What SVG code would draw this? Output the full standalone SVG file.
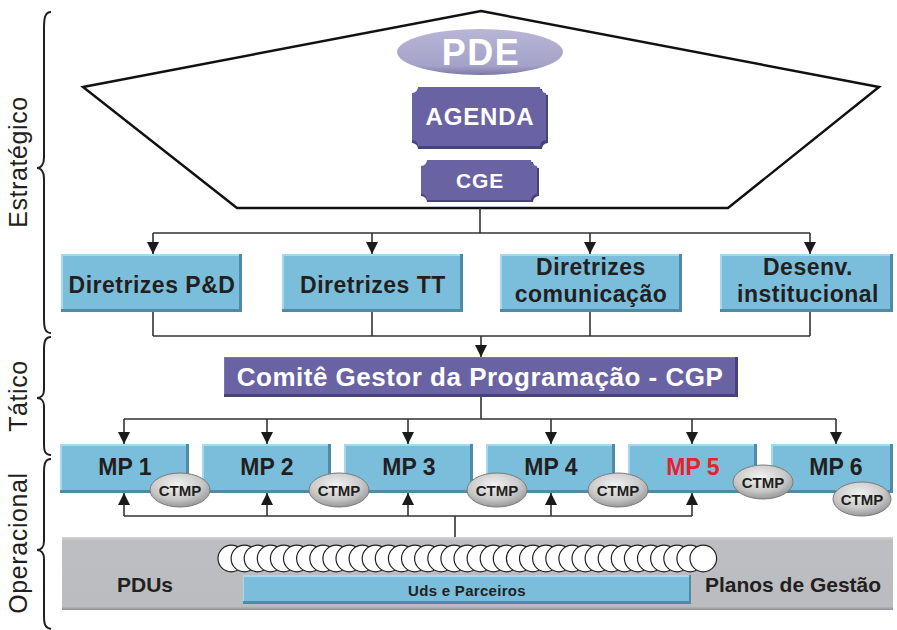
<svg xmlns="http://www.w3.org/2000/svg" width="897" height="630" viewBox="0 0 897 630">
  <defs>
    <style>
      .lbl { font-family: "Liberation Sans", Arial, sans-serif; font-weight: bold; fill: #231f20; text-anchor: middle; }
      .wht { font-family: "Liberation Sans", Arial, sans-serif; font-weight: bold; fill: #ffffff; text-anchor: middle; }
      .side { font-family: "Liberation Sans", Arial, sans-serif; font-size: 25px; fill: #231f20; text-anchor: middle; letter-spacing: 0.6px; }
      .blue { fill: #7bbedb; }
      .blueDark { fill: #4f8aa6; }
      .blueLight { fill: #a6d8ef; }
      .purple { fill: #6a63a3; }
      .purpleDark { fill: #47427c; }
      .wire { fill: none; stroke: #333333; stroke-width: 1.6; }
      .brace { fill: none; stroke: #231f20; stroke-width: 2; }
      .ctmp { fill: url(#ctmpGrad); stroke: #7a7a7a; stroke-width: 1; }
      .bead { fill: #ffffff; stroke: #231f20; stroke-width: 1.2; }
    </style>
    <marker id="arrow" viewBox="0 0 12 12" refX="12" refY="6" markerWidth="12" markerHeight="12" markerUnits="userSpaceOnUse" orient="auto">
      <path d="M0,0 L12,6 L0,12 Z" fill="#1a1a1a"/>
    </marker>
    <radialGradient id="ctmpGrad" cx="0.45" cy="0.35" r="0.7">
      <stop offset="0" stop-color="#f2f2f2"/>
      <stop offset="0.6" stop-color="#c9c9c9"/>
      <stop offset="1" stop-color="#8e8e8e"/>
    </radialGradient>
    <linearGradient id="pdeGrad" x1="0" y1="0" x2="0" y2="1">
      <stop offset="0" stop-color="#b7b6d6"/>
      <stop offset="0.8" stop-color="#a4a2c8"/>
      <stop offset="1" stop-color="#7b78a3"/>
    </linearGradient>
    <linearGradient id="grayGrad" x1="0" y1="0" x2="0" y2="1">
      <stop offset="0" stop-color="#d3d4d6"/>
      <stop offset="0.05" stop-color="#bdbec1"/>
      <stop offset="0.95" stop-color="#bbbcbf"/>
      <stop offset="1" stop-color="#8e8f92"/>
    </linearGradient>
  </defs>

  <!-- Level labels with braces -->
  <g id="levels">
    <text class="side" transform="translate(27,162) rotate(-90)">Estratégico</text>
    <path class="brace" d="M51,12 C45,12 44,18 44,28 L44,158 C44,164 41,168 37,168 C41,168 44,172 44,178 L44,318 C44,328 45,333 51,333"/>
    <text class="side" transform="translate(27,396) rotate(-90)">Tático</text>
    <path class="brace" d="M51,337 C45,337 44,342 44,350 L44,390 C44,395 41,398 37,398 C41,398 44,401 44,406 L44,444 C44,451 45,455 51,455"/>
    <text class="side" transform="translate(27,543) rotate(-90)">Operacional</text>
    <path class="brace" d="M51,459 C45,459 44,464 44,473 L44,541 C44,547 41,550 37,550 C41,550 44,553 44,559 L44,616 C44,624 45,628 51,629"/>
  </g>

  <!-- Strategic pentagon -->
  <g id="strategic-frame">
    <polygon points="481,11 879,87 728,208 237,208 83,87" fill="#ffffff" stroke="#111111" stroke-width="2.5" stroke-linejoin="miter"/>
  </g>

  <g id="pde">
    <ellipse cx="480" cy="52" rx="83" ry="23" fill="url(#pdeGrad)"/>
    <text class="wht" x="481" y="65" font-size="36" letter-spacing="1.5">PDE</text>
  </g>

  <g id="agenda">
    <path class="purpleDark" d="M418,89 L542,89 A6,6 0 0 0 548,95 L548,143 A6,6 0 0 0 542,149 L418,149 A6,6 0 0 0 412,143 L412,95 A6,6 0 0 0 418,89 Z"/>
    <path class="purple" d="M418,87 L540,87 A6,6 0 0 0 546,93 L546,140 A6,6 0 0 0 540,146 L418,146 A6,6 0 0 0 412,140 L412,93 A6,6 0 0 0 418,87 Z"/>
    <text class="wht" x="480" y="125" font-size="24" letter-spacing="0.8">AGENDA</text>
  </g>

  <g id="cge">
    <path class="purpleDark" d="M427,162 L533,162 A6,6 0 0 0 539,168 L539,196 A6,6 0 0 0 533,202 L427,202 A6,6 0 0 0 421,196 L421,168 A6,6 0 0 0 427,162 Z"/>
    <path class="purple" d="M427,160 L531,160 A6,6 0 0 0 537,166 L537,194 A6,6 0 0 0 531,200 L427,200 A6,6 0 0 0 421,194 L421,166 A6,6 0 0 0 427,160 Z"/>
    <text class="wht" x="480" y="188" font-size="21" letter-spacing="0.8">CGE</text>
  </g>

  <!-- Guidelines row -->
  <g id="diretrizes-pd">
    <rect class="blueDark" x="61" y="254" width="181" height="58"/>
    <rect class="blueLight" x="61" y="254" width="178" height="55"/>
    <rect class="blue" x="63" y="256" width="176" height="53"/>
    <text class="lbl" x="152" y="293" font-size="23" letter-spacing="0.5">Diretrizes P&amp;D</text>
  </g>
  <g id="diretrizes-tt">
    <rect class="blueDark" x="282" y="254" width="181" height="58"/>
    <rect class="blueLight" x="282" y="254" width="178" height="55"/>
    <rect class="blue" x="284" y="256" width="176" height="53"/>
    <text class="lbl" x="373" y="293" font-size="23" letter-spacing="0.5">Diretrizes TT</text>
  </g>
  <g id="diretrizes-comunicacao">
    <rect class="blueDark" x="500" y="254" width="182" height="58"/>
    <rect class="blueLight" x="500" y="254" width="179" height="55"/>
    <rect class="blue" x="502" y="256" width="177" height="53"/>
    <text class="lbl" x="591" y="275" font-size="23" letter-spacing="0.5">Diretrizes</text>
    <text class="lbl" x="591" y="302" font-size="23" letter-spacing="0.5">comunicação</text>
  </g>
  <g id="desenv-institucional">
    <rect class="blueDark" x="720" y="254" width="173" height="58"/>
    <rect class="blueLight" x="720" y="254" width="170" height="55"/>
    <rect class="blue" x="722" y="256" width="168" height="53"/>
    <text class="lbl" x="808" y="275" font-size="23" letter-spacing="0.5">Desenv.</text>
    <text class="lbl" x="808" y="302" font-size="23" letter-spacing="0.5">institucional</text>
  </g>

  <!-- Programme steering committee -->
  <g id="cgp">
    <rect class="purpleDark" x="224" y="357" width="514" height="40"/>
    <rect x="224" y="357" width="511" height="37" fill="#7a74b2"/>
    <rect class="purple" x="225" y="358" width="510" height="36"/>
    <text class="wht" x="480" y="386" font-size="26" letter-spacing="0.5">Comitê Gestor da Programação - CGP</text>
  </g>

  <!-- Macroprogrammes -->
  <g id="mp1">
    <rect class="blueDark" x="60" y="444" width="129" height="49"/>
    <rect class="blueLight" x="60" y="444" width="126" height="46"/>
    <rect class="blue" x="62" y="446" width="124" height="44"/>
    <text class="lbl" x="125" y="475" font-size="23">MP 1</text>
  </g>
  <g id="mp2">
    <rect class="blueDark" x="202" y="444" width="129" height="49"/>
    <rect class="blueLight" x="202" y="444" width="126" height="46"/>
    <rect class="blue" x="204" y="446" width="124" height="44"/>
    <text class="lbl" x="267" y="475" font-size="23">MP 2</text>
  </g>
  <g id="mp3">
    <rect class="blueDark" x="344" y="444" width="129" height="49"/>
    <rect class="blueLight" x="344" y="444" width="126" height="46"/>
    <rect class="blue" x="346" y="446" width="124" height="44"/>
    <text class="lbl" x="409" y="475" font-size="23">MP 3</text>
  </g>
  <g id="mp4">
    <rect class="blueDark" x="486" y="444" width="129" height="49"/>
    <rect class="blueLight" x="486" y="444" width="126" height="46"/>
    <rect class="blue" x="488" y="446" width="124" height="44"/>
    <text class="lbl" x="551" y="475" font-size="23">MP 4</text>
  </g>
  <g id="mp5">
    <rect class="blueDark" x="628" y="444" width="129" height="49"/>
    <rect class="blueLight" x="628" y="444" width="126" height="46"/>
    <rect class="blue" x="630" y="446" width="124" height="44"/>
    <text class="lbl" x="693" y="475" font-size="23" style="fill:#e8202a">MP 5</text>
  </g>
  <g id="mp6">
    <rect class="blueDark" x="771" y="444" width="122" height="49"/>
    <rect class="blueLight" x="771" y="444" width="119" height="46"/>
    <rect class="blue" x="773" y="446" width="117" height="44"/>
    <text class="lbl" x="836" y="475" font-size="23">MP 6</text>
  </g>

  <!-- Connectors -->
  <g id="connectors">
    <path class="wire" d="M480,208 V233 M153,233 H810"/>
    <path class="wire" marker-end="url(#arrow)" d="M153,233 V254"/>
    <path class="wire" marker-end="url(#arrow)" d="M372,233 V254"/>
    <path class="wire" marker-end="url(#arrow)" d="M590,233 V254"/>
    <path class="wire" marker-end="url(#arrow)" d="M810,233 V254"/>

    <path class="wire" d="M153,312 V336 M372,312 V336 M590,312 V336 M810,312 V336 M153,336 H810"/>
    <path class="wire" marker-end="url(#arrow)" d="M481,336 V357"/>

    <path class="wire" d="M481,397 V419 M124,419 H836"/>
    <path class="wire" marker-end="url(#arrow)" d="M124,419 V444"/>
    <path class="wire" marker-end="url(#arrow)" d="M267,419 V444"/>
    <path class="wire" marker-end="url(#arrow)" d="M408,419 V444"/>
    <path class="wire" marker-end="url(#arrow)" d="M551,419 V444"/>
    <path class="wire" marker-end="url(#arrow)" d="M692,419 V444"/>
    <path class="wire" marker-end="url(#arrow)" d="M836,419 V444"/>

    <path class="wire" d="M124,516 H692 M455,516 V537"/>
    <path class="wire" marker-end="url(#arrow)" d="M124,516 V493"/>
    <path class="wire" marker-end="url(#arrow)" d="M267,516 V493"/>
    <path class="wire" marker-end="url(#arrow)" d="M408,516 V493"/>
    <path class="wire" marker-end="url(#arrow)" d="M551,516 V493"/>
    <path class="wire" marker-end="url(#arrow)" d="M692,516 V493"/>
  </g>

  <!-- CTMP badges -->
  <g id="ctmp-1"><ellipse class="ctmp" cx="180" cy="490" rx="30" ry="17"/><text class="lbl" x="180" y="496" font-size="15">CTMP</text></g>
  <g id="ctmp-2"><ellipse class="ctmp" cx="339" cy="490" rx="30" ry="17"/><text class="lbl" x="339" y="496" font-size="15">CTMP</text></g>
  <g id="ctmp-3"><ellipse class="ctmp" cx="497" cy="490" rx="30" ry="17"/><text class="lbl" x="497" y="496" font-size="15">CTMP</text></g>
  <g id="ctmp-4"><ellipse class="ctmp" cx="618" cy="490" rx="30" ry="17"/><text class="lbl" x="618" y="496" font-size="15">CTMP</text></g>
  <g id="ctmp-5"><ellipse class="ctmp" cx="763" cy="482" rx="30" ry="17"/><text class="lbl" x="763" y="488" font-size="15">CTMP</text></g>
  <g id="ctmp-6"><ellipse class="ctmp" cx="862" cy="499" rx="29" ry="17"/><text class="lbl" x="862" y="505" font-size="15">CTMP</text></g>

  <!-- Operational base -->
  <g id="base">
    <rect x="62" y="537" width="831" height="73" fill="url(#grayGrad)"/>
    <text class="lbl" x="145" y="592" font-size="21">PDUs</text>
    <text class="lbl" x="793" y="592" font-size="21">Planos de Gestão</text>
  </g>

  <g id="units">
    <rect class="blueDark" x="243" y="575" width="448" height="29"/>
    <rect class="blueLight" x="243" y="575" width="446" height="26"/>
    <rect class="blue" x="244" y="577" width="445" height="24"/>
    <text class="lbl" x="467" y="596" font-size="15" letter-spacing="0.3">Uds e Parceiros</text>
  </g>

  <g id="beads">
    <circle class="bead" cx="231.3" cy="558.5" r="13.3"/>
    <circle class="bead" cx="244.4" cy="558.5" r="13.3"/>
    <circle class="bead" cx="257.5" cy="558.5" r="13.3"/>
    <circle class="bead" cx="270.6" cy="558.5" r="13.3"/>
    <circle class="bead" cx="283.7" cy="558.5" r="13.3"/>
    <circle class="bead" cx="296.8" cy="558.5" r="13.3"/>
    <circle class="bead" cx="309.9" cy="558.5" r="13.3"/>
    <circle class="bead" cx="323.1" cy="558.5" r="13.3"/>
    <circle class="bead" cx="336.2" cy="558.5" r="13.3"/>
    <circle class="bead" cx="349.3" cy="558.5" r="13.3"/>
    <circle class="bead" cx="362.4" cy="558.5" r="13.3"/>
    <circle class="bead" cx="375.5" cy="558.5" r="13.3"/>
    <circle class="bead" cx="388.6" cy="558.5" r="13.3"/>
    <circle class="bead" cx="401.7" cy="558.5" r="13.3"/>
    <circle class="bead" cx="414.8" cy="558.5" r="13.3"/>
    <circle class="bead" cx="427.9" cy="558.5" r="13.3"/>
    <circle class="bead" cx="441.1" cy="558.5" r="13.3"/>
    <circle class="bead" cx="454.2" cy="558.5" r="13.3"/>
    <circle class="bead" cx="467.3" cy="558.5" r="13.3"/>
    <circle class="bead" cx="480.4" cy="558.5" r="13.3"/>
    <circle class="bead" cx="493.5" cy="558.5" r="13.3"/>
    <circle class="bead" cx="506.6" cy="558.5" r="13.3"/>
    <circle class="bead" cx="519.7" cy="558.5" r="13.3"/>
    <circle class="bead" cx="532.8" cy="558.5" r="13.3"/>
    <circle class="bead" cx="545.9" cy="558.5" r="13.3"/>
    <circle class="bead" cx="559.1" cy="558.5" r="13.3"/>
    <circle class="bead" cx="572.2" cy="558.5" r="13.3"/>
    <circle class="bead" cx="585.3" cy="558.5" r="13.3"/>
    <circle class="bead" cx="598.4" cy="558.5" r="13.3"/>
    <circle class="bead" cx="611.5" cy="558.5" r="13.3"/>
    <circle class="bead" cx="624.6" cy="558.5" r="13.3"/>
    <circle class="bead" cx="637.7" cy="558.5" r="13.3"/>
    <circle class="bead" cx="650.8" cy="558.5" r="13.3"/>
    <circle class="bead" cx="663.9" cy="558.5" r="13.3"/>
    <circle class="bead" cx="677.1" cy="558.5" r="13.3"/>
    <circle class="bead" cx="690.2" cy="558.5" r="13.3"/>
    <circle class="bead" cx="703.3" cy="558.5" r="13.3"/>
  </g>
</svg>
